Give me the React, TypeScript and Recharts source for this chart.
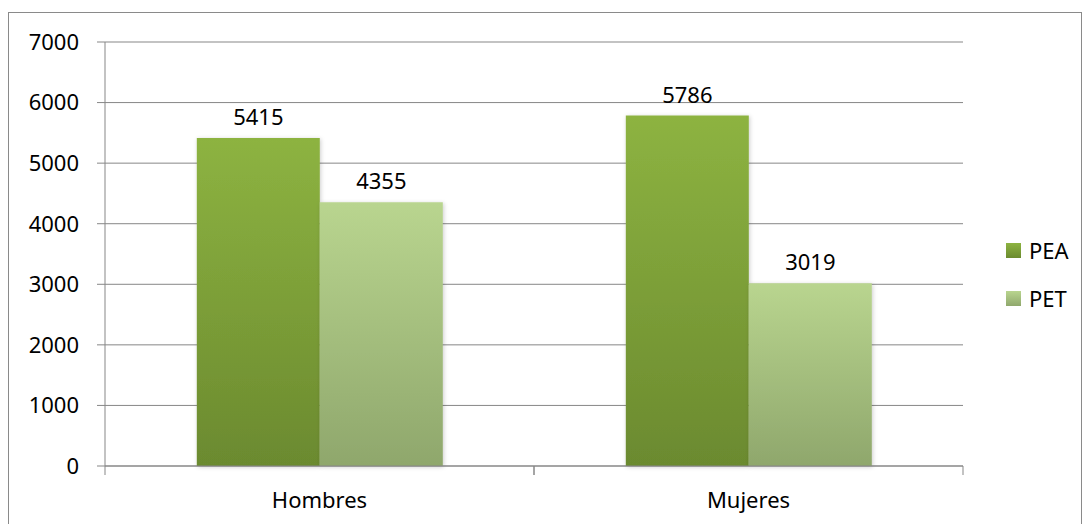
import { BarChart, Bar, XAxis, YAxis, CartesianGrid, Legend, LabelList } from 'recharts';

const categories = ['Hombres', 'Mujeres'];
const pea = [5415, 5786];
const pet = [4355, 3019];
const yTicks = [0, 1000, 2000, 3000, 4000, 5000, 6000, 7000];

const data = categories.map((name, i) => ({ name, PEA: pea[i], PET: pet[i] }));

const FONT = '"Noto Sans", sans-serif';
const GRID = '#878787';
const X_TICK_MARGIN = 26;

function ValueLabel(props: any) {
  const { x, y, width, value } = props;
  return (
    <text
      x={x + width / 2}
      y={y - 22}
      textAnchor="middle"
      dominantBaseline="central"
      fontFamily={FONT}
      fontSize={22}
      fill="#000"
    >
      {value}
    </text>
  );
}

// category label plus tick marks on the band edges (Excel style)
function CategoryTick(props: any) {
  const { x, y, payload } = props;
  const half = payload?.offset ?? 0;
  const axisY = y - X_TICK_MARGIN;
  return (
    <g>
      <line x1={x - half} x2={x - half} y1={axisY} y2={axisY + 9} stroke={GRID} />
      <line x1={x + half} x2={x + half} y1={axisY} y2={axisY + 9} stroke={GRID} />
      <text
        x={x}
        y={y}
        dy="0.71em"
        textAnchor="middle"
        fontFamily={FONT}
        fontSize={22}
        fill="#000"
      >
        {payload.value}
      </text>
    </g>
  );
}

function LegendBox() {
  const items = [
    { name: 'PEA', top: '#8db341', bottom: '#6b8b2f' },
    { name: 'PET', top: '#b9d58f', bottom: '#90a86d' },
  ];
  return (
    <div style={{ fontFamily: FONT, fontSize: 22, color: '#000' }}>
      {items.map((it) => (
        <div key={it.name} style={{ display: 'flex', alignItems: 'center', height: 48 }}>
          <svg width={15} height={15} style={{ marginRight: 8 }}>
            <defs>
              <linearGradient id={`lg${it.name}`} x1="0" y1="0" x2="0" y2="1">
                <stop offset="0%" stopColor={it.top} />
                <stop offset="100%" stopColor={it.bottom} />
              </linearGradient>
            </defs>
            <rect width={15} height={15} fill={`url(#lg${it.name})`} />
          </svg>
          <span>{it.name}</span>
        </div>
      ))}
    </div>
  );
}

export default function App() {
  return (
    <div style={{ position: 'relative', width: 1082, height: 524 }}>
      <style>{'body{margin:0;overflow:hidden}'}</style>
      <div
        style={{
          position: 'absolute',
          left: 8,
          top: 12,
          width: 1074,
          height: 520,
          border: '1px solid #8a8a8a',
          borderBottom: 'none',
          boxSizing: 'border-box',
        }}
      />
      <div style={{ position: 'absolute', left: 0, top: 0 }}>
        <BarChart
          width={1082}
          height={524}
          data={data}
          margin={{ top: 42, right: 43, left: 0, bottom: 0 }}
          barCategoryGap="21.4%"
          barGap={0}
        >
          <defs>
            <linearGradient id="peaGrad" x1="0" y1="0" x2="0" y2="1">
              <stop offset="0%" stopColor="#8db341" />
              <stop offset="100%" stopColor="#6b8a2f" />
            </linearGradient>
            <linearGradient id="petGrad" x1="0" y1="0" x2="0" y2="1">
              <stop offset="0%" stopColor="#b9d58f" />
              <stop offset="100%" stopColor="#8fa76c" />
            </linearGradient>
            <filter id="barShadow" x="-10%" y="-10%" width="120%" height="120%">
              <feDropShadow dx="1" dy="1" stdDeviation="2" floodColor="#000" floodOpacity="0.2" />
            </filter>
          </defs>
          <CartesianGrid vertical={false} stroke={GRID} strokeWidth={1} />
          <XAxis
            dataKey="name"
            height={58}
            axisLine={{ stroke: GRID }}
            tickLine={false}
            tickSize={0}
            tickMargin={X_TICK_MARGIN}
            tick={<CategoryTick />}
          />
          <YAxis
            width={105}
            domain={[0, 7000]}
            ticks={yTicks}
            axisLine={{ stroke: GRID }}
            tickLine={{ stroke: GRID }}
            tickSize={8}
            tickMargin={18}
            tick={{ fill: '#000', fontSize: 22, fontFamily: FONT }}
            interval={0}
          />
          <Legend
            layout="vertical"
            align="right"
            verticalAlign="middle"
            content={() => <LegendBox />}
            wrapperStyle={{ position: 'absolute', left: 1006, top: 226, width: 76 }}
          />
          <Bar dataKey="PEA" fill="url(#peaGrad)" filter="url(#barShadow)" isAnimationActive={false}>
            <LabelList dataKey="PEA" content={<ValueLabel />} />
          </Bar>
          <Bar dataKey="PET" fill="url(#petGrad)" filter="url(#barShadow)" isAnimationActive={false}>
            <LabelList dataKey="PET" content={<ValueLabel />} />
          </Bar>
        </BarChart>
      </div>
    </div>
  );
}
